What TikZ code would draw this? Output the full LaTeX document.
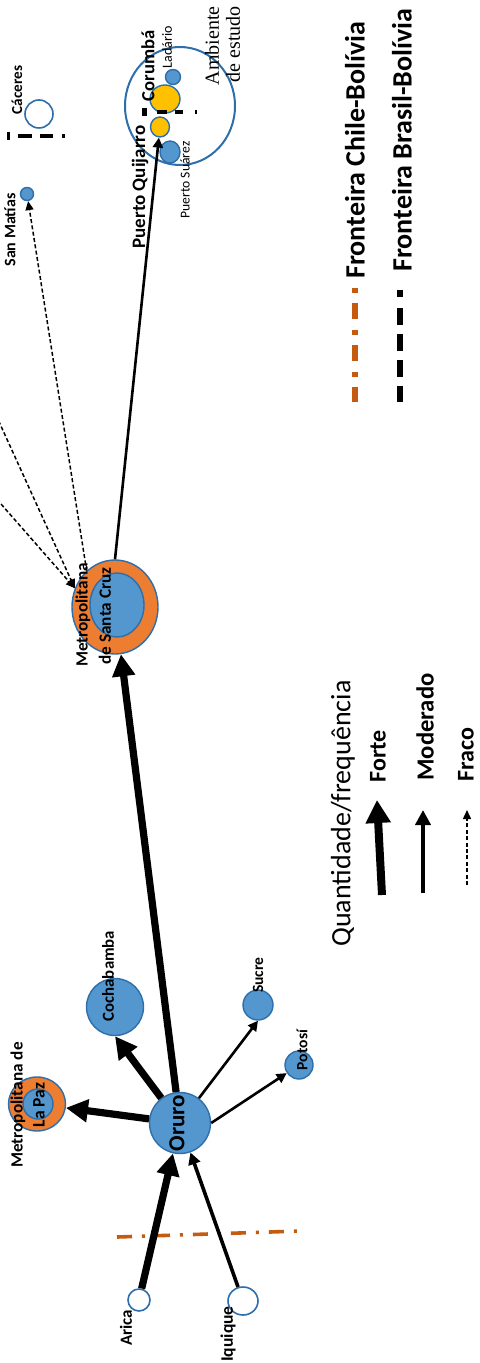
\documentclass[tikz,border=0pt]{standalone}
\usepackage{fontspec}
\setmainfont{Carlito}
\newfontfamily\serifface{Liberation Serif}
\usetikzlibrary{arrows.meta,shapes.geometric}

\definecolor{cityblue}{RGB}{84,150,206}
\definecolor{cityedge}{RGB}{46,110,170}
\definecolor{metroorange}{RGB}{237,125,49}
\definecolor{portyellow}{RGB}{255,192,0}
\definecolor{chileline}{RGB}{197,90,17}

\tikzset{
  city/.style={circle, draw=cityedge, fill=cityblue, line width=0.7pt, inner sep=0pt, minimum size=#1},
  cityoval/.style 2 args={ellipse, draw=cityedge, fill=cityblue, line width=0.7pt, inner sep=0pt, minimum width=#1, minimum height=#2},
  metro/.style 2 args={ellipse, draw=cityedge, fill=metroorange, line width=0.7pt, inner sep=0pt, minimum width=#1, minimum height=#2},
  port/.style 2 args={ellipse, draw=cityedge, fill=portyellow, line width=0.7pt, inner sep=0pt, minimum width=#1, minimum height=#2},
  openoval/.style 2 args={ellipse, draw=cityedge, fill=white, line width=0.8pt, inner sep=0pt, minimum width=#1, minimum height=#2},
  lbl/.style={rotate=90, inner sep=0pt, font=\bfseries\fontsize{#1}{#1}\selectfont},
  lblreg/.style={rotate=90, inner sep=0pt, font=\fontsize{#1}{#1}\selectfont},
  forte/.style={line width=3.6pt, -{Triangle[width=11pt,length=11pt]}},
  moderado/.style={line width=1.8pt, -{Triangle[width=6pt,length=6pt]}},
  leve/.style={line width=1.3pt, -{Triangle[width=5pt,length=5pt]}},
  fraco/.style={line width=0.75pt, dash pattern=on 2pt off 1.2pt, -{Triangle[width=4pt,length=4.5pt]}},
}

\begin{document}
\begin{tikzpicture}[x=0.5pt,y=-0.5pt]
\useasboundingbox (0,0) rectangle (480,1363);
\clip (0,0) rectangle (480,1363);

% ---------- cities ----------
\node[openoval={11pt}{11pt}] (arica) at (139,1300) {};
\node[openoval={15pt}{14pt}] (iquique) at (243,1301) {};
\node[city=30.5pt] (oruro) at (180,1123) {};
\node[metro={28.5pt}{27pt}] (lapaz) at (37,1104) {};
\node[city=15pt] (lapazin) at (38,1104) {};
\node[city=28.5pt] (cocha) at (115,1007) {};
\node[city=15pt] (sucre) at (258,1005) {};
\node[city=14pt] (potosi) at (299,1065) {};
\node[metro={43pt}{47pt}] (sc) at (115,607) {};
\node[cityoval={27pt}{32pt}] (scin) at (117,605) {};
\node[city=6.5pt] (sm) at (27,194) {};
\node[openoval={14pt}{14pt}] (caceres) at (39,114) {};

% study area around Corumba
\node[ellipse, draw=cityedge, line width=1pt, inner sep=0pt, minimum width=55pt, minimum height=59pt] (estudo) at (180,106) {};
\node[city=7.5pt] (ladario) at (173,77) {};
\node[port={15pt}{14pt}] (corumba) at (165,99) {};
\node[port={9.5pt}{10pt}] (pq) at (160,127) {};
\node[cityoval={10pt}{11pt}] (psuarez) at (170,152) {};

% ---------- borders on the map ----------
\draw[chileline, line width=1.8pt, dash pattern=on 7.5pt off 5pt on 1.5pt off 5pt] (117,1237) -- (300,1231);
\draw[line width=2pt, dash pattern=on 5pt off 4pt on 4pt off 6pt on 1pt off 5pt] (157,112) -- (197,112);
\draw[line width=2.5pt] (144.5,108) -- (144.5,116);
\draw[line width=2pt, dash pattern=on 7pt off 4pt on 6.5pt off 4.5pt on 1.5pt off 5pt] (18,136) -- (65,136);
\draw[line width=1.5pt] (8.5,132) -- (8.5,140);

% ---------- flows ----------
\coordinate (westA) at (-20,480);
\coordinate (westB) at (-20,380);
\draw[forte] (arica) -- (oruro);
\draw[moderado] (iquique) -- (oruro);
\draw[forte] (oruro) -- (lapaz);
\draw[forte] (oruro) -- (cocha.south);
\draw[forte] (oruro) -- (sc);
\draw[leve] (oruro) -- (sucre.south);
\draw[leve] (oruro.east) -- (potosi);
\draw[leve] (sc.north) -- (pq);
\draw[fraco] (sc.128) -- (sm);
\draw[fraco] (westA) -- (sc.155);
\draw[fraco] (westB) -- (sc.155);

% ---------- labels ----------
\node[lbl=8.5] (tarica) at (126,1328) {Arica};
\node[lbl=8.8] (tiquique) at (228,1334) {Iquique};
\node[lbl=11.5] (toruro) at (177,1123) {Oruro};
\node[lbl=8.6] (tlapaz1) at (18,1105) {Metropolitana de};
\node[lbl=8.8] (tlapaz2) at (39,1105) {La Paz};
\node[lbl=8.4] (tcocha) at (108,976) {Cochabamba};
\node[lbl=7.8] (tsucre) at (258,975) {Sucre};
\node[lbl=7.8] (tpotosi) at (302,1050) {Potosí};
\node[lbl=8.6] (tsc1) at (83,615) {Metropolitana};
\node[lbl=8.6] (tsc2) at (105,616) {de Santa Cruz};
\node[lbl=9.5] (tpq) at (140,187) {Puerto Quijarro};
\node[lbl=9.3] (tcorumba) at (148,66) {Corumbá};
\node[lblreg=7] (tladario) at (167,47) {Ladário};
\node[lblreg=6.8] (tpsuarez) at (185,180) {Puerto Suárez};
\node[lbl=7.6] (tcaceres) at (17,90) {Cáceres};
\node[lbl=8] (tsm) at (10,230) {San Matías};
\node[rotate=90, anchor=east, inner sep=0pt, font=\serifface\fontsize{10}{10}\selectfont] (tamb1) at (212,6) {Ambiente};
\node[rotate=90, anchor=east, inner sep=0pt, font=\serifface\fontsize{10}{10}\selectfont] (tamb2) at (233,6) {de estudo};

% ---------- legend: borders ----------
\coordinate (chileA) at (355,288);
\coordinate (chileB) at (355,402);
\coordinate (brasA) at (400,290);
\coordinate (brasB) at (400,402);
\draw[chileline, line width=3pt, dash pattern=on 2.5pt off 5pt on 8pt off 5.5pt] (chileA) -- (chileB);
\draw[line width=3pt, dash pattern=on 3.5pt off 5.5pt on 8.5pt off 4.5pt on 8.5pt off 4.5pt on 8.5pt off 4.5pt on 8.5pt off 4.5pt] (brasA) -- (brasB);
\node[lbl=14, anchor=west] (tchile) at (355,279) {Fronteira Chile-Bolívia};
\node[lbl=14, anchor=west] (tbras) at (402,272) {Fronteira Brasil-Bolívia};

% ---------- legend: flow strength ----------
\node[lblreg=14, anchor=west] (tquant) at (343,947) {Quantidade/frequência};
\coordinate (fA) at (382,895);
\coordinate (fB) at (377,800);
\coordinate (mA) at (423,893);
\coordinate (mB) at (423,810);
\coordinate (wA) at (467,885);
\coordinate (wB) at (467,810);
\draw[line width=4pt, -{Triangle[width=12pt,length=11.5pt]}] (fA) -- (fB);
\draw[line width=2pt, -{Triangle[width=7.5pt,length=7.5pt]}] (mA) -- (mB);
\draw[fraco] (wA) -- (wB);
\node[lbl=12, anchor=west] (tforte) at (378,783) {Forte};
\node[lbl=12.3, anchor=west] (tmod) at (425,781) {Moderado};
\node[lbl=12, anchor=west] (tfraco) at (466,782) {Fraco};
\end{tikzpicture}
\end{document}
